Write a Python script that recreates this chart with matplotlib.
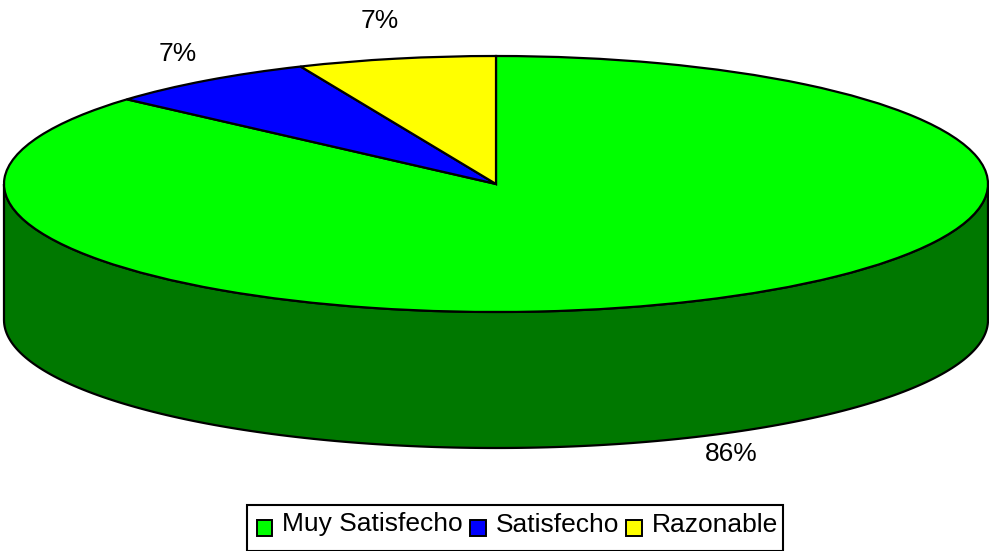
import numpy as np
import matplotlib
matplotlib.use("Agg")
import matplotlib.pyplot as plt
from matplotlib.patches import Rectangle

plt.rcParams["font.family"] = ["Liberation Sans", "DejaVu Sans"]

# data
categories = ["Muy Satisfecho", "Satisfecho", "Razonable"]
values = [86.5, 7, 6.5]
pct_labels = ["86%", "7%", "7%"]
colors = ["#00FF00", "#0000FF", "#FFFF00"]
side_color = "#007800"

# layout, in pixels of the 989x551 picture
W, H = 989, 551
cx, cy = 496, 184
rx, ry = 492, 128
depth = 136
label_pos = [(731, 454), (178, 54), (380, 21)]

fig = plt.figure(figsize=(W / 100, H / 100), dpi=100)
ax = fig.add_axes([0, 0, 1, 1])


def px(x, y):
    # picture pixel -> data units of the squashed pie
    return (x - cx) / rx, (cy - y) / ry


# side wall of the cylinder
t = np.radians(np.linspace(180, 360, 181))
wall_x = np.concatenate([np.cos(t), np.cos(t[::-1])])
wall_y = np.concatenate([np.sin(t), np.sin(t[::-1]) - depth / ry])
ax.fill(wall_x, wall_y, facecolor=side_color, edgecolor="black", lw=1.6, zorder=1)

# top face
wedges, _ = ax.pie(
    values,
    colors=colors,
    startangle=90,
    counterclock=False,
    radius=1,
    wedgeprops={"edgecolor": "black", "linewidth": 1.6, "zorder": 2},
)

# pie() forces an equal aspect, the squash comes from the limits below
ax.set_aspect("auto")
ax.set_xlim(px(0, 0)[0], px(W, 0)[0])
ax.set_ylim(px(0, H)[1], px(0, 0)[1])
ax.axis("off")

for txt, (x, y) in zip(pct_labels, label_pos):
    lx, ly = px(x, y)
    ax.text(lx, ly, txt, fontsize=19, ha="center", va="center", color="black", zorder=3)

# legend box runs off the bottom of the picture, so it is drawn on its own
fig.add_artist(
    Rectangle(
        (247 / W, 0),
        (783 - 247) / W,
        (H - 505) / H,
        transform=fig.transFigure,
        facecolor="white",
        edgecolor="black",
        lw=1.5,
    )
)

leg = fig.legend(
    wedges,
    categories,
    ncol=3,
    loc="lower left",
    bbox_to_anchor=(247 / W, 5 / H),
    borderaxespad=0,
    fontsize=19,
    frameon=False,
    handlelength=0.6,
    handleheight=0.55,
    handletextpad=0.38,
    columnspacing=0.27,
    borderpad=0.36,
)
for h in leg.legend_handles:
    h.set_linewidth(1.4)
    h.set_y(h.get_y() - 4)

fig.savefig("out.png", dpi=100)
